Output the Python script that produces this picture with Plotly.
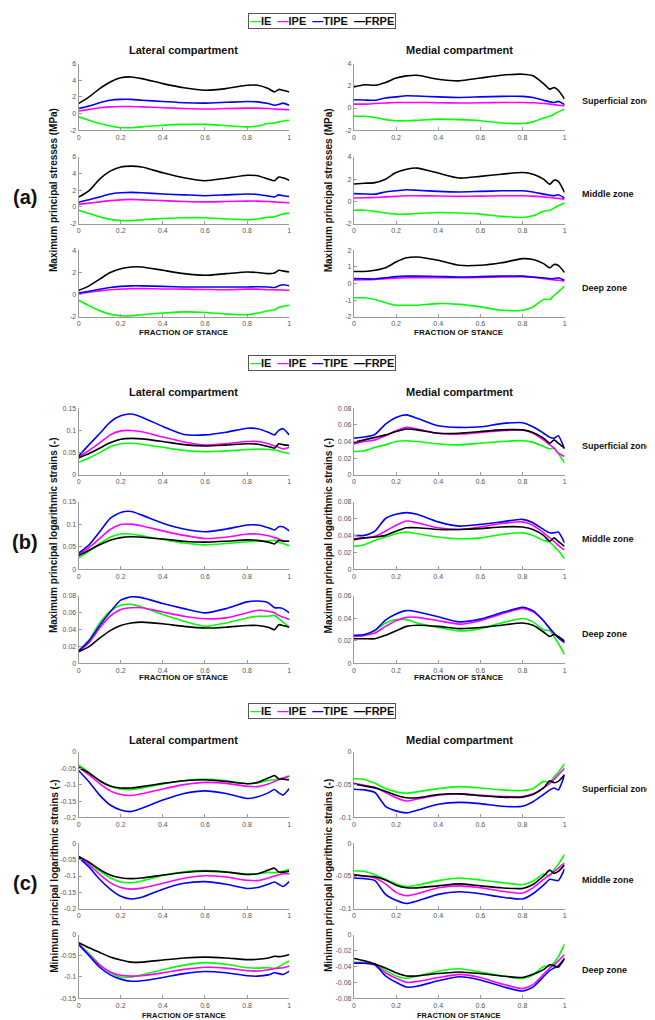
import plotly.graph_objects as go

W, H = 655, 1020

# ---------------- data ----------------
X = [0, 0.05, 0.1, 0.15, 0.2, 0.25, 0.3, 0.4, 0.5, 0.6, 0.7, 0.8, 0.85, 0.9, 0.93, 0.95, 0.97, 1.0]
SERIES = ["IE", "IPE", "TIPE", "FRPE"]
COLORS = {"IE": "#00ff00", "IPE": "#ff00ff", "TIPE": "#0000ff", "FRPE": "#000000"}
X_TICKS = [0, 0.2, 0.4, 0.6, 0.8, 1]

# (a) maximum principal stresses (MPa)
a_lat_sup = {
    "IE":   [-0.4, -0.8, -1.2, -1.5, -1.7, -1.7, -1.6, -1.4, -1.3, -1.3, -1.45, -1.6, -1.5, -1.2, -1.15, -1.0, -0.9, -0.8],
    "IPE":  [0.3, 0.5, 0.7, 0.8, 0.85, 0.85, 0.8, 0.7, 0.6, 0.55, 0.6, 0.65, 0.65, 0.6, 0.55, 0.5, 0.5, 0.45],
    "TIPE": [0.6, 0.9, 1.3, 1.6, 1.7, 1.7, 1.6, 1.45, 1.3, 1.25, 1.35, 1.45, 1.4, 1.2, 1.0, 1.1, 1.25, 1.0],
    "FRPE": [1.2, 2.0, 3.0, 3.8, 4.3, 4.4, 4.2, 3.6, 3.1, 2.8, 3.0, 3.4, 3.4, 3.0, 2.6, 2.9, 2.8, 2.6],
}
a_med_sup = {
    "IE":   [-0.75, -0.75, -0.85, -1.05, -1.15, -1.15, -1.1, -1.0, -1.05, -1.15, -1.35, -1.4, -1.25, -0.9, -0.75, -0.55, -0.35, -0.1],
    "IPE":  [0.35, 0.35, 0.4, 0.45, 0.5, 0.5, 0.5, 0.48, 0.45, 0.47, 0.5, 0.5, 0.47, 0.4, 0.35, 0.3, 0.25, 0.2],
    "TIPE": [0.75, 0.72, 0.7, 0.9, 1.0, 1.1, 1.08, 1.0, 0.95, 1.0, 1.05, 1.05, 0.95, 0.7, 0.55, 0.5, 0.6, 0.3],
    "FRPE": [1.9, 2.1, 2.05, 2.3, 2.7, 2.9, 2.95, 2.6, 2.45, 2.7, 2.95, 3.05, 2.9, 2.2, 1.7, 1.85, 1.6, 0.8],
}
a_lat_mid = {
    "IE":   [-0.4, -0.8, -1.2, -1.5, -1.65, -1.65, -1.55, -1.4, -1.3, -1.3, -1.45, -1.55, -1.45, -1.25, -1.2, -1.0, -0.85, -0.75],
    "IPE":  [0.3, 0.45, 0.6, 0.75, 0.85, 0.9, 0.85, 0.75, 0.65, 0.6, 0.65, 0.7, 0.7, 0.65, 0.6, 0.55, 0.55, 0.5],
    "TIPE": [0.57, 0.85, 1.2, 1.55, 1.7, 1.75, 1.7, 1.55, 1.45, 1.35, 1.45, 1.55, 1.5, 1.3, 1.2, 1.45, 1.35, 1.25],
    "FRPE": [1.17, 1.96, 3.35, 4.3, 4.8, 4.9, 4.8, 4.1, 3.5, 3.15, 3.45, 3.8, 3.75, 3.35, 3.15, 3.6, 3.5, 3.2],
}
a_med_mid = {
    "IE":   [-0.8, -0.8, -0.9, -1.05, -1.15, -1.15, -1.1, -1.0, -1.05, -1.15, -1.35, -1.45, -1.3, -0.9, -0.8, -0.6, -0.4, -0.15],
    "IPE":  [0.3, 0.32, 0.35, 0.4, 0.45, 0.5, 0.5, 0.48, 0.45, 0.47, 0.5, 0.5, 0.47, 0.4, 0.35, 0.3, 0.27, 0.2],
    "TIPE": [0.7, 0.67, 0.65, 0.85, 0.95, 1.05, 1.0, 0.9, 0.85, 0.9, 0.95, 0.95, 0.85, 0.65, 0.55, 0.5, 0.6, 0.3],
    "FRPE": [1.57, 1.63, 1.69, 2.0, 2.6, 2.9, 3.0, 2.55, 2.1, 2.25, 2.45, 2.6, 2.45, 2.0, 1.55, 1.9, 1.8, 0.8],
}
a_lat_deep = {
    "IE":   [-0.5, -1.0, -1.45, -1.75, -1.9, -1.9, -1.8, -1.65, -1.55, -1.6, -1.75, -1.8, -1.65, -1.45, -1.35, -1.15, -1.05, -0.95],
    "IPE":  [0.1, 0.22, 0.35, 0.45, 0.5, 0.55, 0.55, 0.52, 0.5, 0.47, 0.45, 0.5, 0.5, 0.45, 0.45, 0.42, 0.42, 0.4],
    "TIPE": [0.15, 0.32, 0.5, 0.65, 0.75, 0.8, 0.8, 0.75, 0.7, 0.7, 0.7, 0.7, 0.72, 0.7, 0.65, 0.8, 0.9, 0.8],
    "FRPE": [0.38, 0.8, 1.4, 2.0, 2.35, 2.5, 2.5, 2.2, 1.9, 1.75, 1.9, 2.05, 2.0, 1.9, 1.95, 2.2, 2.15, 2.05],
}
a_med_deep = {
    "IE":   [-0.85, -0.85, -0.95, -1.15, -1.3, -1.3, -1.3, -1.2, -1.25, -1.4, -1.6, -1.6, -1.4, -0.95, -0.95, -0.7, -0.5, -0.15],
    "IPE":  [0.22, 0.23, 0.25, 0.3, 0.33, 0.35, 0.35, 0.35, 0.35, 0.37, 0.4, 0.42, 0.38, 0.3, 0.25, 0.22, 0.2, 0.15],
    "TIPE": [0.3, 0.29, 0.28, 0.35, 0.42, 0.45, 0.45, 0.43, 0.4, 0.42, 0.45, 0.45, 0.4, 0.35, 0.3, 0.3, 0.35, 0.2],
    "FRPE": [0.73, 0.73, 0.8, 0.95, 1.3, 1.55, 1.6, 1.4, 1.1, 1.1, 1.25, 1.5, 1.45, 1.2, 0.95, 1.15, 1.1, 0.67],
}

# (b) maximum principal logarithmic strains (-)
b_lat_sup = {
    "IE":   [0.028, 0.038, 0.05, 0.063, 0.07, 0.071, 0.069, 0.062, 0.055, 0.052, 0.054, 0.057, 0.058, 0.057, 0.056, 0.054, 0.051, 0.048],
    "IPE":  [0.04, 0.055, 0.072, 0.09, 0.099, 0.1, 0.097, 0.085, 0.074, 0.067, 0.07, 0.075, 0.075, 0.07, 0.065, 0.062, 0.058, 0.062],
    "TIPE": [0.042, 0.068, 0.093, 0.119, 0.133, 0.137, 0.13, 0.109, 0.091, 0.09, 0.096, 0.105, 0.104, 0.096, 0.09, 0.1, 0.104, 0.09],
    "FRPE": [0.038, 0.048, 0.06, 0.072, 0.08, 0.082, 0.081, 0.075, 0.068, 0.065, 0.067, 0.07, 0.069, 0.064, 0.06, 0.07, 0.068, 0.066],
}
b_med_sup = {
    "IE":   [0.028, 0.029, 0.033, 0.036, 0.04, 0.041, 0.04, 0.037, 0.036, 0.038, 0.04, 0.041, 0.039, 0.034, 0.031, 0.032, 0.026, 0.014],
    "IPE":  [0.037, 0.04, 0.042, 0.047, 0.053, 0.057, 0.055, 0.05, 0.049, 0.051, 0.053, 0.054, 0.05, 0.042, 0.036, 0.032, 0.026, 0.022],
    "TIPE": [0.044, 0.0454, 0.0485, 0.061, 0.069, 0.072, 0.068, 0.059, 0.057, 0.0577, 0.0615, 0.0626, 0.0577, 0.05, 0.045, 0.044, 0.047, 0.031],
    "FRPE": [0.039, 0.042, 0.045, 0.048, 0.052, 0.055, 0.054, 0.05, 0.05, 0.052, 0.054, 0.054, 0.051, 0.044, 0.038, 0.042, 0.038, 0.032],
}
b_lat_mid = {
    "IE":   [0.025, 0.04, 0.057, 0.071, 0.078, 0.078, 0.074, 0.066, 0.058, 0.054, 0.057, 0.061, 0.062, 0.063, 0.064, 0.06, 0.057, 0.052],
    "IPE":  [0.033, 0.048, 0.068, 0.088, 0.099, 0.1, 0.096, 0.085, 0.075, 0.068, 0.071, 0.078, 0.078, 0.074, 0.07, 0.067, 0.063, 0.062],
    "TIPE": [0.0355, 0.054, 0.083, 0.113, 0.126, 0.128, 0.12, 0.102, 0.089, 0.083, 0.089, 0.098, 0.098, 0.092, 0.087, 0.094, 0.094, 0.085],
    "FRPE": [0.03, 0.042, 0.054, 0.064, 0.07, 0.072, 0.071, 0.067, 0.062, 0.06, 0.062, 0.065, 0.064, 0.06, 0.056, 0.064, 0.062, 0.062],
}
b_med_mid = {
    "IE":   [0.027, 0.029, 0.034, 0.038, 0.042, 0.044, 0.042, 0.038, 0.036, 0.037, 0.041, 0.043, 0.04, 0.034, 0.032, 0.027, 0.022, 0.012],
    "IPE":  [0.036, 0.037, 0.039, 0.045, 0.052, 0.057, 0.055, 0.049, 0.047, 0.05, 0.054, 0.056, 0.052, 0.043, 0.037, 0.033, 0.028, 0.023],
    "TIPE": [0.0398, 0.04, 0.045, 0.06, 0.065, 0.067, 0.065, 0.056, 0.051, 0.053, 0.056, 0.059, 0.055, 0.047, 0.043, 0.043, 0.044, 0.031],
    "FRPE": [0.035, 0.037, 0.038, 0.04, 0.045, 0.049, 0.049, 0.047, 0.047, 0.048, 0.05, 0.05, 0.047, 0.04, 0.033, 0.037, 0.033, 0.027],
}
b_lat_deep = {
    "IE":   [0.015, 0.028, 0.048, 0.062, 0.069, 0.07, 0.067, 0.058, 0.05, 0.044, 0.048, 0.054, 0.056, 0.056, 0.057, 0.053, 0.049, 0.043],
    "IPE":  [0.014, 0.025, 0.042, 0.056, 0.064, 0.066, 0.066, 0.061, 0.056, 0.053, 0.054, 0.06, 0.063, 0.062, 0.06, 0.057, 0.055, 0.052],
    "TIPE": [0.015, 0.027, 0.045, 0.061, 0.075, 0.079, 0.078, 0.071, 0.065, 0.06, 0.065, 0.073, 0.074, 0.072, 0.066, 0.066, 0.065, 0.06],
    "FRPE": [0.014, 0.02, 0.03, 0.039, 0.045, 0.048, 0.049, 0.047, 0.044, 0.042, 0.043, 0.045, 0.045, 0.043, 0.04, 0.046, 0.045, 0.043],
}
b_med_deep = {
    "IE":   [0.024, 0.025, 0.029, 0.036, 0.039, 0.039, 0.036, 0.032, 0.029, 0.031, 0.036, 0.04, 0.037, 0.03, 0.029, 0.024, 0.018, 0.008],
    "IPE":  [0.024, 0.025, 0.027, 0.033, 0.038, 0.041, 0.041, 0.038, 0.035, 0.038, 0.044, 0.049, 0.046, 0.038, 0.031, 0.027, 0.023, 0.018],
    "TIPE": [0.025, 0.0257, 0.0296, 0.0385, 0.044, 0.047, 0.046, 0.0415, 0.037, 0.0394, 0.045, 0.05, 0.047, 0.038, 0.031, 0.0266, 0.023, 0.019],
    "FRPE": [0.022, 0.022, 0.022, 0.025, 0.029, 0.033, 0.034, 0.033, 0.031, 0.032, 0.034, 0.036, 0.034, 0.028, 0.024, 0.026, 0.024, 0.02],
}

# (c) minimum principal logarithmic strains (-)
c_lat_sup = {
    "IE":   [-0.04, -0.063, -0.088, -0.105, -0.114, -0.115, -0.11, -0.098, -0.088, -0.084, -0.088, -0.097, -0.095, -0.087, -0.085, -0.083, -0.08, -0.073],
    "IPE":  [-0.047, -0.07, -0.097, -0.119, -0.13, -0.133, -0.128, -0.113, -0.1, -0.093, -0.096, -0.105, -0.106, -0.098, -0.09, -0.085, -0.08, -0.075],
    "TIPE": [-0.057, -0.092, -0.132, -0.162, -0.177, -0.182, -0.172, -0.147, -0.127, -0.119, -0.127, -0.142, -0.137, -0.125, -0.115, -0.125, -0.132, -0.112],
    "FRPE": [-0.047, -0.065, -0.088, -0.104, -0.11, -0.11, -0.106, -0.096, -0.088, -0.085, -0.09, -0.097, -0.093, -0.08, -0.072, -0.082, -0.083, -0.085],
}
c_med_sup = {
    "IE":   [-0.041, -0.042, -0.048, -0.056, -0.061, -0.063, -0.061, -0.056, -0.053, -0.055, -0.058, -0.059, -0.056, -0.045, -0.046, -0.038, -0.031, -0.018],
    "IPE":  [-0.048, -0.051, -0.054, -0.062, -0.07, -0.075, -0.072, -0.066, -0.064, -0.066, -0.068, -0.068, -0.064, -0.055, -0.048, -0.042, -0.035, -0.025],
    "TIPE": [-0.057, -0.058, -0.062, -0.083, -0.09, -0.093, -0.089, -0.08, -0.077, -0.079, -0.083, -0.083, -0.076, -0.065, -0.058, -0.055, -0.058, -0.035],
    "FRPE": [-0.049, -0.052, -0.055, -0.06, -0.066, -0.07, -0.07, -0.065, -0.064, -0.067, -0.069, -0.069, -0.065, -0.055, -0.044, -0.047, -0.045, -0.035],
}
c_lat_mid = {
    "IE":   [-0.04, -0.06, -0.085, -0.105, -0.118, -0.12, -0.115, -0.098, -0.087, -0.083, -0.087, -0.095, -0.093, -0.089, -0.09, -0.088, -0.085, -0.079],
    "IPE":  [-0.04, -0.065, -0.095, -0.12, -0.135, -0.14, -0.137, -0.122, -0.107, -0.099, -0.103, -0.113, -0.114, -0.106, -0.1, -0.096, -0.093, -0.093],
    "TIPE": [-0.043, -0.073, -0.11, -0.14, -0.162, -0.17, -0.165, -0.14, -0.122, -0.117, -0.125, -0.138, -0.135, -0.125, -0.118, -0.125, -0.132, -0.117],
    "FRPE": [-0.04, -0.058, -0.08, -0.097, -0.105, -0.108, -0.106, -0.097, -0.089, -0.085, -0.088, -0.095, -0.093, -0.082, -0.076, -0.088, -0.088, -0.085],
}
c_med_mid = {
    "IE":   [-0.042, -0.043, -0.048, -0.055, -0.062, -0.066, -0.064, -0.057, -0.053, -0.056, -0.06, -0.063, -0.058, -0.047, -0.05, -0.04, -0.032, -0.017],
    "IPE":  [-0.048, -0.05, -0.053, -0.062, -0.075, -0.08, -0.077, -0.068, -0.065, -0.068, -0.073, -0.076, -0.068, -0.055, -0.048, -0.043, -0.038, -0.03],
    "TIPE": [-0.053, -0.054, -0.057, -0.078, -0.087, -0.092, -0.088, -0.078, -0.074, -0.077, -0.082, -0.085, -0.077, -0.064, -0.055, -0.056, -0.057, -0.039],
    "FRPE": [-0.048, -0.05, -0.051, -0.056, -0.064, -0.068, -0.068, -0.065, -0.062, -0.065, -0.068, -0.069, -0.063, -0.05, -0.041, -0.046, -0.043, -0.033],
}
c_lat_deep = {
    "IE":   [-0.022, -0.045, -0.07, -0.09, -0.1, -0.1, -0.095, -0.083, -0.072, -0.066, -0.07, -0.078, -0.079, -0.078, -0.08, -0.076, -0.07, -0.062],
    "IPE":  [-0.022, -0.048, -0.072, -0.088, -0.096, -0.098, -0.097, -0.09, -0.082, -0.077, -0.079, -0.085, -0.086, -0.083, -0.08, -0.079, -0.078, -0.074],
    "TIPE": [-0.023, -0.05, -0.077, -0.095, -0.105, -0.11, -0.109, -0.101, -0.092, -0.087, -0.09, -0.097, -0.098, -0.095, -0.09, -0.092, -0.094, -0.086],
    "FRPE": [-0.019, -0.031, -0.042, -0.053, -0.06, -0.065, -0.065, -0.06, -0.055, -0.053, -0.055, -0.059, -0.058, -0.055, -0.051, -0.052, -0.051, -0.047],
}
c_med_deep = {
    "IE":   [-0.035, -0.035, -0.037, -0.045, -0.052, -0.055, -0.052, -0.046, -0.043, -0.047, -0.052, -0.055, -0.051, -0.04, -0.04, -0.035, -0.028, -0.012],
    "IPE":  [-0.035, -0.036, -0.038, -0.048, -0.055, -0.06, -0.059, -0.054, -0.05, -0.054, -0.062, -0.068, -0.063, -0.05, -0.042, -0.038, -0.033, -0.025],
    "TIPE": [-0.036, -0.036, -0.038, -0.052, -0.06, -0.066, -0.065, -0.058, -0.053, -0.057, -0.065, -0.071, -0.066, -0.053, -0.045, -0.042, -0.039, -0.03],
    "FRPE": [-0.03, -0.033, -0.037, -0.042, -0.048, -0.052, -0.052, -0.049, -0.047, -0.049, -0.052, -0.054, -0.05, -0.044, -0.038, -0.039, -0.041, -0.03],
}

# y tick values per subplot
YT_A_LAT = [-2, 0, 2, 4, 6]
YT_A_LAT_DEEP = [-2, 0, 2, 4]
YT_A_MED = [-2, 0, 2, 4]
YT_A_MED_DEEP = [-2, -1, 0, 1, 2]
YT_B_15 = [0, 0.05, 0.1, 0.15]
YT_B_08 = [0, 0.02, 0.04, 0.06, 0.08]
YT_B_06 = [0, 0.02, 0.04, 0.06]
YT_C_20 = [-0.2, -0.15, -0.1, -0.05, 0]
YT_C_15 = [-0.15, -0.1, -0.05, 0]
YT_C_10 = [-0.1, -0.05, 0]
YT_C_08 = [-0.08, -0.06, -0.04, -0.02, 0]

# ---------------- layout geometry (pixels) ----------------
COL_X = [(69, 281), (346, 558)]
ROW_Y = {
    "a": [(52, 119), (146, 213), (240, 307)],
    "b": [(399, 466), (493, 561), (588, 656)],
    "c": [(745, 811), (837, 903), (929, 993)],
}

subplots = [
    ("a", 0, 0, a_lat_sup, YT_A_LAT), ("a", 1, 0, a_med_sup, YT_A_MED),
    ("a", 0, 1, a_lat_mid, YT_A_LAT), ("a", 1, 1, a_med_mid, YT_A_MED),
    ("a", 0, 2, a_lat_deep, YT_A_LAT_DEEP), ("a", 1, 2, a_med_deep, YT_A_MED_DEEP),
    ("b", 0, 0, b_lat_sup, YT_B_15), ("b", 1, 0, b_med_sup, YT_B_08),
    ("b", 0, 1, b_lat_mid, YT_B_15), ("b", 1, 1, b_med_mid, YT_B_08),
    ("b", 0, 2, b_lat_deep, YT_B_08), ("b", 1, 2, b_med_deep, YT_B_06),
    ("c", 0, 0, c_lat_sup, YT_C_20), ("c", 1, 0, c_med_sup, YT_C_10),
    ("c", 0, 1, c_lat_mid, YT_C_20), ("c", 1, 1, c_med_mid, YT_C_10),
    ("c", 0, 2, c_lat_deep, YT_C_15), ("c", 1, 2, c_med_deep, YT_C_08),
]

FONT = "Liberation Sans, Arial, sans-serif"
AX_COLOR = "#9a9a9a"
TICK_FONT = dict(family=FONT, size=7, color="#555555")


def px(x):
    return x / W


def py(y):
    return 1 - y / H


def fmt(v):
    return ("%g" % v)


fig = go.Figure()
layout = dict(
    width=W, height=H, margin=dict(l=0, r=0, t=0, b=0),
    paper_bgcolor="white", plot_bgcolor="white", showlegend=False,
    font=dict(family=FONT),
)

for i, (panel, col, row, data, yt) in enumerate(subplots, start=1):
    x0, x1 = COL_X[col]
    y0, y1 = ROW_Y[panel][row]
    suffix = "" if i == 1 else str(i)
    for s in SERIES:
        fig.add_trace(go.Scatter(
            x=X, y=data[s], mode="lines", name=s,
            line=dict(color=COLORS[s], width=1.6, shape="spline", smoothing=0.6),
            xaxis="x" + suffix, yaxis="y" + suffix, showlegend=False,
        ))
    layout["xaxis" + suffix] = dict(
        domain=[px(x0), px(x1)], anchor="y" + suffix, range=[0, 1],
        tickvals=X_TICKS, ticktext=[fmt(v) for v in X_TICKS],
        showline=True, linecolor=AX_COLOR, linewidth=1, mirror=False,
        ticks="inside", ticklen=3, tickcolor=AX_COLOR, tickfont=TICK_FONT,
        showgrid=False, zeroline=False, fixedrange=True,
    )
    layout["yaxis" + suffix] = dict(
        domain=[py(y1), py(y0)], anchor="x" + suffix, range=[yt[0], yt[-1]],
        tickvals=yt, ticktext=[fmt(v) for v in yt],
        showline=True, linecolor=AX_COLOR, linewidth=1, mirror=False,
        ticks="inside", ticklen=3, tickcolor=AX_COLOR, tickfont=TICK_FONT,
        showgrid=False, zeroline=False, fixedrange=True,
    )

fig.update_layout(**layout)

ann = []


def text(x, y, s, size, angle=0, xanchor="center", color="#111111"):
    ann.append(dict(x=px(x), y=py(y), xref="paper", yref="paper", text=s,
                    showarrow=False, textangle=angle, xanchor=xanchor, yanchor="middle",
                    font=dict(family=FONT, size=size, color=color)))


legend_text = "&nbsp;&nbsp;".join(
    "<span style='color:%s'>—</span>%s" % (COLORS[s], s) for s in SERIES)

panel_info = {
    "a": dict(legend_y=9, title_y=38, xlab_y=323, xlab_size=8, label="(a)",
              ylab="Maximum principal stresses (MPa)"),
    "b": dict(legend_y=353, title_y=383, xlab_y=670, xlab_size=8, label="(b)",
              ylab="Maximum principal logarithmic strains (-)"),
    "c": dict(legend_y=704, title_y=733, xlab_y=1010, xlab_size=7.5, label="(c)",
              ylab="Minimum principal logarithmic strains (-)"),
}
zones = ["Superficial zone", "Middle zone", "Deep zone"]

for p, info in panel_info.items():
    ann.append(dict(x=px(314), y=py(info["legend_y"]), xref="paper", yref="paper",
                    text="<b>" + legend_text + "</b>", showarrow=False,
                    xanchor="center", yanchor="middle",
                    font=dict(family=FONT, size=11, color="#111111"),
                    bordercolor="#555555", borderwidth=1, borderpad=1, bgcolor="white"))
    text(175, info["title_y"], "<b>Lateral compartment</b>", 11)
    text(452, info["title_y"], "<b>Medial compartment</b>", 11)
    text(175, info["xlab_y"], "<b>FRACTION OF STANCE</b>", info["xlab_size"])
    text(452, info["xlab_y"], "<b>FRACTION OF STANCE</b>", info["xlab_size"])
    mid = sum(ROW_Y[p][1]) / 2
    text(44, mid, "<b>" + info["ylab"] + "</b>", 10, angle=-90)
    text(320, mid, "<b>" + info["ylab"] + "</b>", 10, angle=-90)
    text(15, mid + 7, "<b>" + info["label"] + "</b>", 20)
    for r, z in enumerate(zones):
        text(573, sum(ROW_Y[p][r]) / 2 + 4, "<b>" + z + "</b>", 9, xanchor="left")

fig.update_layout(annotations=ann)
fig.write_html("out.html")
